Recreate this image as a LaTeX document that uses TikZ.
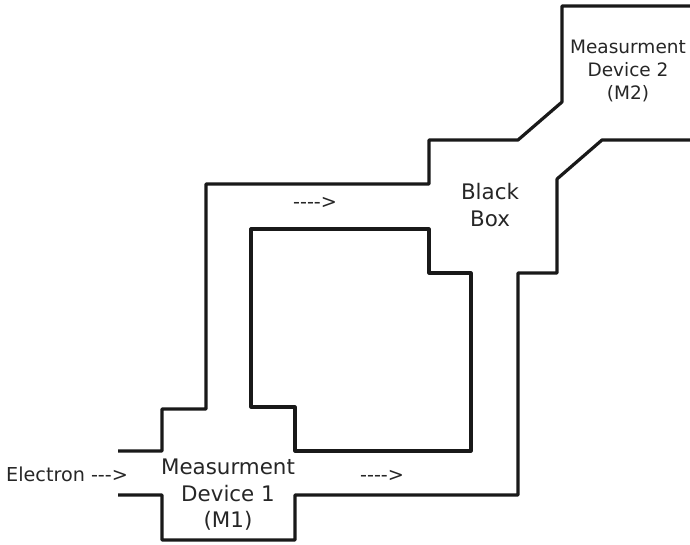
\documentclass[tikz,border=0pt]{standalone}
\usepackage{fontspec}
\setmainfont{DejaVu Sans}
\begin{document}
\begin{tikzpicture}[
    x=1pt, y=-1pt,
    wall/.style={draw, black!90, line width=3.2pt, line join=round},
    label/.style={text=black!85, align=center, inner sep=0pt},
    device/.style={label, font=\fontsize{21.4}{26.5}\selectfont},
    device2/.style={label, font=\fontsize{18.5}{23}\selectfont},
    flow/.style={label, font=\fontsize{19.2}{22}\selectfont}
]
\useasboundingbox (0,0) rectangle (690,545);

\path [wall] (118,451) -- (162,451) -- (162,409) -- (206,409) -- (206,184) -- (429,184) -- (429,140) -- (518,140) -- (562,102) -- (562,6) -- (690,6);
\path [wall] (118,495) -- (162,495) -- (162,540) -- (295,540) -- (295,495) -- (518,495) -- (518,273) -- (557,273) -- (557,179) -- (602,140) -- (690,140);
\path [wall] (251,229) -- (429,229) -- (429,273) -- (471,273) -- (471,451) -- (295,451) -- (295,407) -- (251,407) -- cycle;

\node [device] (m1) at (228,495) {Measurment\\Device 1\\(M1)};
\node [device2] (m2) at (628,71) {Measurment\\Device 2\\(M2)};
\node [device] (box) at (490,205) {Black\\Box};
\node [flow, anchor=west] (electron) at (6,474) {Electron -{}-{}->};
\node [flow, anchor=west] (top) at (293,203) {-{}-{}-{}->};
\node [flow, anchor=west] (bottom) at (360,476) {-{}-{}-{}->};

\end{tikzpicture}
\end{document}
